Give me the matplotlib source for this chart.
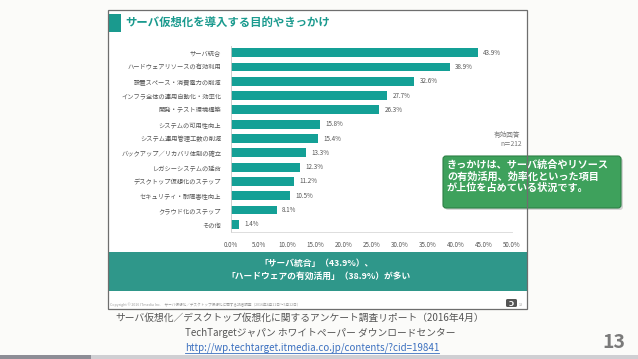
import matplotlib.pyplot as plt
import numpy as np
from matplotlib.patches import Rectangle, FancyBboxPatch

plt.rcParams['font.family'] = ['Noto Sans CJK JP', 'DejaVu Sans']

# survey data
categories = ['サーバ統合', 'ハードウェアリソースの有効利用', '設置スペース・消費電力の削減',
              'インフラ全体の運用自動化・効率化', '開発・テスト環境構築', 'システムの可用性向上',
              'システム運用管理工数の削減', 'バックアップ／リカバリ体制の確立', 'レガシーシステムの延命',
              'デスクトップ仮想化のステップ', 'セキュリティ・耐障害性向上', 'クラウド化のステップ', 'その他']
values = [43.9, 38.9, 32.6, 27.7, 26.3, 15.8, 15.4, 13.3, 12.3, 11.2, 10.5, 8.1, 1.4]
xticks = [0, 5, 10, 15, 20, 25, 30, 35, 40, 45, 50]

title = 'サーバ仮想化を導入する目的やきっかけ'
banner = ['「サーバ統合」（43.9%）、', '「ハードウェアの有効活用」（38.9%）が多い']
callout = ['きっかけは、サーバ統合やリソース', 'の有効活用、効率化といった項目', 'が上位を占めている状況です。']
caption = ['サーバ仮想化／デスクトップ仮想化に関するアンケート調査リポート（2016年4月）',
           'TechTargetジャパン ホワイトペーパー ダウンロードセンター']
link = 'http://wp.techtarget.itmedia.co.jp/contents/?cid=19841'

W, H = 638, 359
fig = plt.figure(figsize=(W / 100, H / 100), dpi=100)
fig.patch.set_facecolor('#fbfbf9')

# background layer in pixel coordinates
bg = fig.add_axes([0, 0, 1, 1], zorder=0)
bg.set_xlim(0, W)
bg.set_ylim(H, 0)
bg.axis('off')

# slide frame
bg.add_patch(Rectangle((108, 10), 419, 299, facecolor='white', edgecolor='none', zorder=1))
bg.add_patch(Rectangle((108, 14), 13, 18, facecolor='#1a9a8e', edgecolor='none', zorder=2))
bg.text(125, 22, title, color='#1a9a8e', fontsize=8.2, fontweight='bold', va='center', ha='left', zorder=2)

# banner
bg.add_patch(Rectangle((108, 252), 419, 39, facecolor='#2f978a', edgecolor='none', zorder=2))
bg.text(317, 263, banner[0], color='white', fontsize=6.3, fontweight='bold', ha='center', va='center', zorder=3)
bg.text(319, 276, banner[1], color='white', fontsize=6.3, fontweight='bold', ha='center', va='center', zorder=3)

# footer
bg.text(110, 305, 'Copyright © 2016 ITmedia Inc.     サーバ仮想化／デスクトップ仮想化に関する読者調査（2016年4月11日～5月12日）',
        color='#9a9a9a', fontsize=2.6, ha='left', va='center', zorder=3)
bg.add_patch(FancyBboxPatch((506, 299), 11, 8, boxstyle='round,pad=0,rounding_size=1.5',
                            facecolor='#555555', edgecolor='none', zorder=3))
bg.text(511.5, 303, 'Ɔ', color='white', fontsize=5, fontweight='bold', ha='center', va='center', zorder=4)
bg.text(519, 305, '13', color='#999999', fontsize=2.6, ha='left', va='center', zorder=3)

# sample size note
bg.text(507, 135, '有効回答', color='#777777', fontsize=4.8, ha='center', va='center', zorder=3)
bg.text(511, 144, 'n＝212', color='#777777', fontsize=4.8, ha='center', va='center', zorder=3)

# callout box
bg.add_patch(FancyBboxPatch((445, 158), 178, 52, boxstyle='round,pad=0,rounding_size=3',
                            facecolor='#bdbdbd', edgecolor='none', zorder=3, alpha=0.6))
bg.add_patch(FancyBboxPatch((443, 156), 178, 52, boxstyle='round,pad=0,rounding_size=3',
                            facecolor='#3ea15c', edgecolor='#2d7f45', linewidth=0.8, zorder=4))
for i, line in enumerate(callout):
    bg.text(447, 165 + i * 11.5, line, color='white', fontsize=7.3, fontweight='bold',
            ha='left', va='center', zorder=5)

# frame border on top
bg.add_patch(Rectangle((108, 10), 419, 299, facecolor='none', edgecolor='#6e6e6e', linewidth=0.9, zorder=6))

# caption under the slide
bg.text(115, 318, caption[0], color='#555555', fontsize=7, ha='left', va='center', zorder=3)
bg.text(185, 333, caption[1], color='#555555', fontsize=7, ha='left', va='center', zorder=3)
lt = bg.text(185, 348, link, color='#3a6fbf', fontsize=7, ha='left', va='center', zorder=3)
bg.text(614, 342, '13', color='#7a7a7a', fontsize=14, fontweight='bold', ha='center', va='center', zorder=3)

# bottom strip
bg.add_patch(Rectangle((0, 355), W, 4, facecolor='#cfcfd3', edgecolor='none', zorder=2))
bg.add_patch(Rectangle((0, 355), 91, 4, facecolor='#8d8d96', edgecolor='none', zorder=3))

# underline for link
fig.canvas.draw()
bb = lt.get_window_extent()
inv = bg.transData.inverted()
(x0, y0), (x1, y1) = inv.transform([(bb.x0, bb.y0), (bb.x1, bb.y0)])
bg.plot([x0, x1], [y0 - 0.5, y0 - 0.5], color='#3a6fbf', linewidth=0.6, zorder=3)

# bar chart
ax = fig.add_axes([231 / W, 1 - 231.5 / H, 281 / W, 186 / H], zorder=1)
ax.patch.set_alpha(0)
y = np.arange(len(categories))
ax.barh(y, values, height=0.62, color='#14a096')
ax.set_ylim(len(categories) - 0.5, -0.5)
ax.set_xlim(0, 50)
ax.set_yticks(y)
ax.set_yticklabels(categories, fontsize=4.5, color='#555555')
ax.set_xticks(xticks)
ax.set_xticklabels(['%.1f%%' % t for t in xticks], fontsize=4.5, color='#555555')
ax.tick_params(axis='both', length=0)
ax.tick_params(axis='y', pad=7)
ax.tick_params(axis='x', pad=7)
for s in ['top', 'right']:
    ax.spines[s].set_visible(False)
ax.spines['left'].set_color('#c8c8c8')
ax.spines['bottom'].set_color('#d8d8d8')
ax.spines['left'].set_linewidth(0.6)
ax.spines['bottom'].set_linewidth(0.6)
for i, v in enumerate(values):
    ax.text(v + 1.0, i, '%.1f%%' % v, fontsize=4.5, color='#555555', va='center', ha='left')

fig.savefig('out.png', dpi=100, facecolor=fig.get_facecolor())
